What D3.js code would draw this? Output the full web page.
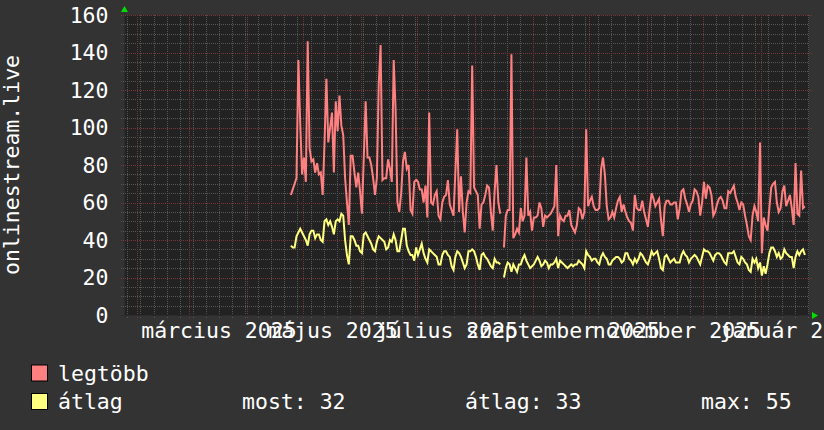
<!DOCTYPE html>
<html>
<head>
<meta charset="utf-8">
<script src="https://cdn.jsdelivr.net/npm/d3@7"></script>
<style>
  body { margin: 0; background: #333333; }
  text { font-family: "DejaVu Sans Mono", monospace; fill: #ffffff; }
</style>
</head>
<body>
<svg id="chart" width="824" height="430"></svg>
<script>
// Daily samples, first one on 2025-04-24. null = missing day.
const firstDay = Date.UTC(2025, 3, 24, 12);

const maxValues = [
  64, 67, 70, 73, 136, 102, 75, 84, 71, 146,
  89, 82, 83, 76, 81, 75, 76, 64, 92, 126,
  92, 100, 108, 76, 114, 98, 117, 101, 96, 73,
  60, 48, 85, 85, 76, 68, 76, 66, 54, 84,
  114, 84, 84, 80, 73, 64, 73, 123, 144, 72,
  73, 73, 83, 78, 71, 136, 110, 60, 55, 65,
  82, 87, 78, 80, 56, 54, 71,
  72, 71, 67, 67, 60, 69, 52, 108, 60, 59,
  64, 66, 53, 51, 60, 63, 64, 72, 59, 56,
  53, 76, 99, 55, 74, 55, 44, 60, 66, 65,
  133, 68, 66, 64, 46, 59, 60, 64, 69, 68,
  55, 45, 66, 80, 60, 54, null, 36, 53, 56,
  56, 139, 41, 43, 46, 44, 57, 50, 53, 84,
  53, 55, 45, 52, 52, 53, 60, 57, 47, 53,
  52, 53, 54, 56, 58, 80, 42, 53, 51, 50,
  53, 53, 56, 48, 46, 44, 48, 57, 56, 51,
  55, 99, 58, 61, 63, 58, 56, 56, 57, 78,
  84, 75, 58, 51, 52, 55, 52, 57, 61, 63,
  55, 59, 55, 52, 50, 49, 45, 64, 57, 56,
  56, 61, 55, 51, 47, 57, 65, 62, 58, 60,
  62, 51, 42, 58, 61, 61, 59, 59, 60, 60,
  51, 57, 66, 67, 62, 59, 55, 59, 61, 67,
  66, 63, 53, 60, 71, 62, 69, 68, 64, 53,
  55, 59, 62, 63, 61, 57, 57, 66, 65, 67,
  69, 63, 60, 56, 60, 59, 53, 48, 42, 40,
  53, 58, 55, 50, 92, 33, 52, 48, 45, 57,
  68, 70, 71, 60, 55, 57, 66, 69, 58, 61,
  64, 57, 48, 81, 54, 53, 77, 57, 58
];

const avgValues = [
  37, 36, 36, 42, 44, 46, 44, 42, 40, 37,
  43, 45, 45, 41, 43, 43, 40, 39, 50, 51,
  48, 50, 47, 43, 50, 51, 50, 54, 53, 40,
  32, 27, 42, 42, 40, 37, 37, 34, 33, 43,
  44, 42, 40, 38, 35, 34, 39, 42, 41, 40,
  39, 35, 36, 40, 39, 43, 40, 34, 34, 40,
  46, 46, 37, 34, 32, 32, 29,
  36, 32, 35, 38, 33, 30, 28, 35, 34, 33,
  32, 31, 27, 27, 32, 34, 34, 32, 31, 26,
  24, 31, 34, 33, 31, 28, 25, 27, 34, 34,
  35, 34, 31, 27, 24, 32, 33, 31, 30, 28,
  26, 25, 30, 28, 28, 27, null, 20, 25, 28,
  27, 23, 27, 25, 23, 27, 27, 30, 32, 29,
  27, 25, 26, 27, 29, 31, 29, 26, 27, 29,
  28, 25, 27, 27, 28, 30, 25, 29, 28, 27,
  26, 25, 26, 27, 26, 27, 27, 29, 28, 27,
  25, 34, 32, 31, 29, 30, 30, 28, 27, 31,
  33, 31, 30, 27, 27, 29, 30, 31, 31, 30,
  28, 29, 33, 33, 30, 29, 27, 30, 28, 30,
  33, 32, 30, 28, 27, 30, 34, 32, 33, 34,
  30, 25, 24, 31, 32, 30, 28, 29, 30, 28,
  28, 28, 32, 34, 32, 31, 28, 30, 31, 32,
  31, 29, 27, 31, 35, 34, 34, 33, 31, 29,
  32, 33, 33, 32, 30, 28, 27, 33, 33, 33,
  34, 31, 28, 27, 31, 30, 28, 27, 24, 23,
  30, 28, 30, 25, 28, 21, 26, 22, 27, 33,
  36, 36, 34, 31, 33, 30, 31, 35, 33, 32,
  31, 31, 25, 31, 34, 32, 34, 35, 32
];

const yTicks = [0, 20, 40, 60, 80, 100, 120, 140, 160];
const monthLabels = ["március 2025", "május 2025", "július 2025", "szeptember 2025", "november 2025", "január 2026"];
const monthLabelDates = [[2025, 2], [2025, 4], [2025, 6], [2025, 8], [2025, 10], [2026, 0]];
const seriesNames = ["legtöbb", "átlag"];
const seriesColors = ["#ff8080", "#ffff80"];
const statNames = ["most: 32", "átlag: 33", "max: 55"];

const svg = d3.select("#chart");

const plotLeft = 124, plotRight = 809, plotTop = 15, plotBottom = 315;

const x = d3.scaleUtc()
  .domain([new Date(Date.UTC(2025, 0, 25, 5)), new Date(Date.UTC(2026, 0, 26, 17))])
  .range([plotLeft, plotRight]);
const y = d3.scaleLinear().domain([0, 160]).range([plotBottom, plotTop]);

const dates = maxValues.map((v, i) => new Date(firstDay + i * 864e5));

// canvas + plot background
svg.append("rect").attr("width", 824).attr("height", 430).attr("fill", "#333333");
svg.append("rect")
  .attr("x", plotLeft).attr("y", plotTop)
  .attr("width", plotRight - plotLeft).attr("height", plotBottom - plotTop)
  .attr("fill", "#222222");

const grid = svg.append("g").attr("shape-rendering", "crispEdges");

// minor grid: weeks and every 5
const weeks = d3.utcMonday.range(x.domain()[0], x.domain()[1]);
grid.selectAll(".vminor").data(weeks).join("line")
  .attr("x1", d => Math.round(x(d)) + 0.5).attr("x2", d => Math.round(x(d)) + 0.5)
  .attr("y1", plotTop).attr("y2", plotBottom + 3)
  .attr("stroke", "#555555").attr("stroke-dasharray", "1,1");

const fives = d3.range(5, 160, 5).filter(v => v % 20 != 0);
grid.selectAll(".hminor").data(fives).join("line")
  .attr("x1", plotLeft - 3).attr("x2", plotRight)
  .attr("y1", d => Math.round(y(d)) + 0.5).attr("y2", d => Math.round(y(d)) + 0.5)
  .attr("stroke", "#555555").attr("stroke-dasharray", "1,1");

// major grid: months and every 20
const months = d3.utcMonth.range(x.domain()[0], x.domain()[1]);
grid.selectAll(".vmajor").data(months).join("line")
  .attr("x1", d => Math.round(x(d)) + 0.5).attr("x2", d => Math.round(x(d)) + 0.5)
  .attr("y1", plotTop).attr("y2", plotBottom + 3)
  .attr("stroke", "#7a3636").attr("stroke-dasharray", "1,1");

grid.selectAll(".hmajor").data(yTicks).join("line")
  .attr("x1", plotLeft - 3).attr("x2", plotRight + 3)
  .attr("y1", d => Math.round(y(d)) + 0.5).attr("y2", d => Math.round(y(d)) + 0.5)
  .attr("stroke", "#7a3636").attr("stroke-dasharray", "1,1");

// data lines
[maxValues, avgValues].forEach((values, k) => {
  const line = d3.line()
    .defined(d => d != null)
    .x((d, i) => x(dates[i]))
    .y(d => y(d));
  svg.append("path")
    .datum(values)
    .attr("d", line)
    .attr("fill", "none")
    .attr("stroke", seriesColors[k])
    .attr("stroke-width", 2)
    .attr("stroke-linejoin", "miter");
});

// axes
svg.append("line")
  .attr("x1", plotLeft - 3).attr("x2", plotRight + 3).attr("y1", plotBottom + 0.5).attr("y2", plotBottom + 0.5)
  .attr("stroke", "#2c2c2c");
svg.append("line")
  .attr("x1", plotLeft + 0.5).attr("x2", plotLeft + 0.5).attr("y1", plotTop - 4).attr("y2", plotBottom + 3)
  .attr("stroke", "#2c2c2c");
svg.append("path")
  .attr("d", `M${plotLeft - 3},${plotTop - 3} L${plotLeft + 4},${plotTop - 3} L${plotLeft + 0.5},${plotTop - 9} Z`)
  .attr("fill", "#00e000");
svg.append("path")
  .attr("d", `M${plotRight + 3},${plotBottom - 3} L${plotRight + 3},${plotBottom + 4} L${plotRight + 9},${plotBottom + 0.5} Z`)
  .attr("fill", "#00e000");

// y labels
svg.selectAll(".ylab").data(yTicks).join("text")
  .attr("x", 108.5).attr("y", d => y(d) + 7.7)
  .attr("text-anchor", "end")
  .attr("font-size", "21.5px")
  .text(d => d);

// x labels centered half a month after the month start
svg.selectAll(".xlab").data(monthLabels).join("text")
  .attr("x", (d, i) => x(new Date(Date.UTC(monthLabelDates[i][0], monthLabelDates[i][1], 17))))
  .attr("y", 338)
  .attr("text-anchor", "middle")
  .attr("font-size", "21.5px")
  .text(d => d);

// vertical title
svg.append("text")
  .attr("transform", `translate(19,${(plotTop + plotBottom) / 2}) rotate(-90)`)
  .attr("text-anchor", "middle")
  .attr("font-size", "21.5px")
  .text("onlinestream.live");

// legend
const legendY = [380.5, 409];
seriesNames.forEach((name, k) => {
  svg.append("rect")
    .attr("x", 31.5).attr("y", legendY[k] - 15.5)
    .attr("width", 16).attr("height", 16)
    .attr("fill", seriesColors[k]).attr("stroke", "#000000");
  svg.append("text")
    .attr("x", 58).attr("y", legendY[k])
    .attr("font-size", "21.5px")
    .text(name);
});
const statX = [242, 465, 701];
statNames.forEach((s, k) => {
  svg.append("text")
    .attr("x", statX[k]).attr("y", legendY[1])
    .attr("font-size", "21.5px")
    .text(s);
});
</script>
</body>
</html>
